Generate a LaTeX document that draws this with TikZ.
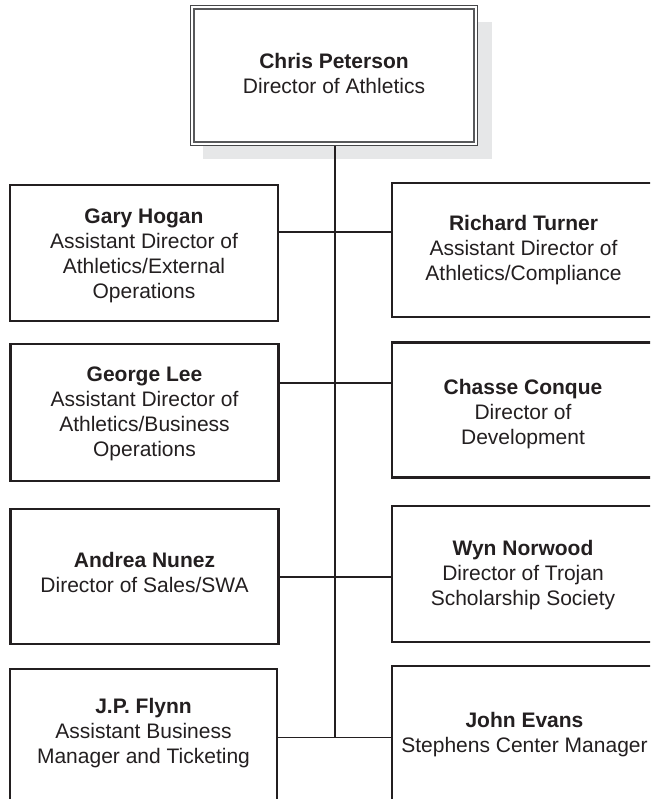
\documentclass[tikz,border=0pt]{standalone}
\usepackage{fontspec}
\setmainfont{Liberation Sans}
\definecolor{inkc}{HTML}{231F20}
\definecolor{framegray}{HTML}{58595B}
\definecolor{shadowgray}{HTML}{E6E7E8}
\begin{document}
\begin{tikzpicture}[x=1pt,y=-1pt,
  box/.style={draw=inkc, line width=2.2pt, fill=white, inner sep=0pt,
    minimum width=268pt, minimum height=136pt},
  rbox/.style={box, minimum width=264pt},
  txt/.style={align=center, text=inkc, inner sep=0pt,
    font=\fontsize{21}{25}\selectfont},
  wire/.style={draw=inkc, line width=1.9pt},
  trunk/.style={draw=inkc, line width=2pt},
]
\useasboundingbox (0,0) rectangle (650,799);
\fill[white] (0,0) rectangle (650,799);
\clip (0,0) rectangle (650,799);

% shadow of the top box
\fill[shadowgray] (203,22) rectangle (492,159);

% top box
\node[draw=framegray!80!black, line width=1.1pt, fill=white, inner sep=0pt,
  minimum width=287pt, minimum height=140pt] (top) at (334,75.5) {};
\draw[framegray, line width=2pt]
  ([xshift=3.6pt,yshift=-4pt]top.north west) rectangle
  ([xshift=-3.6pt,yshift=4pt]top.south east);
\node[txt] (toptxt) at (334,73.2) {\textbf{Chris Peterson}\\Director of Athletics};

% junctions on the trunk
\coordinate (j1) at (334.5,231.7);
\coordinate (j2) at (334.5,383.3);
\coordinate (j3) at (334.5,576.7);
\coordinate (j4) at (334.5,737.5);

% left column
\node[box] (L1) at (144,253) {};
\node[box, minimum height=137pt] (L2) at (144.5,412.5) {};
\node[box, minimum height=135pt] (L3) at (144.5,576.5) {};
\node[box, minimum width=267.5pt] (L4) at (143.5,737) {};

% right column
\node[rbox, minimum height=134pt] (R1) at (524,250) {};
\node[rbox, minimum height=135pt] (R2) at (524,410) {};
\node[rbox] (R3) at (524,574) {};
\node[rbox] (R4) at (524,734) {};

% texts
\node[txt] (L1t) at (144,255.4) {\textbf{Gary Hogan}\\Assistant Director of\\Athletics/External\\Operations};
\node[txt] (L2t) at (144.5,413.8) {\textbf{George Lee}\\Assistant Director of\\Athletics/Business\\Operations};
\node[txt] (L3t) at (144.5,572.3) {\textbf{Andrea Nunez}\\Director of Sales/SWA};
\node[txt] (L4t) at (143.5,732.9) {\textbf{J.P. Flynn}\\Assistant Business\\Manager and Ticketing};
\node[txt] (R1t) at (523.5,250.3) {\textbf{Richard Turner}\\Assistant Director of\\Athletics/Compliance};
\node[txt] (R2t) at (523,413.9) {\textbf{Chasse Conque}\\Director of\\Development};
\node[txt] (R3t) at (523,574.6) {\textbf{Wyn Norwood}\\Director of Trojan\\Scholarship Society};
\node[txt] (R4t) at (524.5,734.4) {\textbf{John Evans}\\Stephens Center Manager};

% connectors
\draw[trunk] (top.south -| j1) -- (j4);
\draw[wire] (L1.east |- j1) -- (R1.west |- j1);
\draw[wire] (L2.east |- j2) -- (R2.west |- j2);
\draw[wire] (L3.east |- j3) -- (R3.west |- j3);
\draw[wire] (L4.east |- j4) -- (R4.west |- j4);
\end{tikzpicture}
\end{document}
